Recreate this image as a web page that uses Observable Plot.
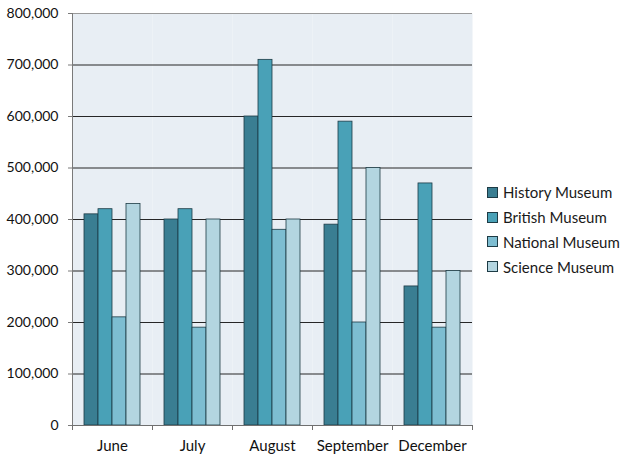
<!DOCTYPE html>
<html>
<head>
<meta charset="utf-8">
<script src="https://cdn.jsdelivr.net/npm/d3@7"></script>
<script src="https://cdn.jsdelivr.net/npm/@observablehq/plot@0.6"></script>
<style>
  body { margin: 0; background: #fff; }
  #wrap { position: relative; width: 624px; height: 460px; }
  #legend { position: absolute; left: 487px; top: 180px; font-family: Lato, sans-serif; font-size: 15px; color: #1a1a1a; }
  .item { display: flex; align-items: center; height: 24.8px; }
  .sw { width: 9px; height: 9px; border: 1px solid #1d3b45; margin-right: 5px; }
</style>
</head>
<body>
<div id="wrap"><div id="legend"></div></div>
<script>
const months = ["June", "July", "August", "September", "December"];
const museums = ["History Museum", "British Museum", "National Museum", "Science Museum"];
const history = [410000, 400000, 600000, 390000, 270000];
const british = [420000, 420000, 710000, 590000, 470000];
const national = [210000, 190000, 380000, 200000, 190000];
const science = [430000, 400000, 400000, 500000, 300000];
const colors = ["#3a7e92", "#49a1b7", "#7dbdd1", "#b3d5e0"];
const yTicks = [0, 100000, 200000, 300000, 400000, 500000, 600000, 700000, 800000];

const series = [history, british, national, science];
const data = months.flatMap((m, i) => museums.map((s, j) => ({month: m, museum: s, visitors: series[j][i]})));

const W = 624, ML = 72, MR = 152;
const half = (W - ML - MR) / months.length / 2;
const fmt = d3.format(",");

const chart = Plot.plot({
  width: W, height: 460,
  marginLeft: ML, marginRight: MR, marginTop: 13, marginBottom: 35,
  style: {fontFamily: "Lato, sans-serif", fontSize: "14px", color: "#111", background: "transparent"},
  fx: {domain: months, padding: 0, label: null, axis: null},
  x: {domain: museums, paddingInner: 0, paddingOuter: 0.76, axis: null},
  y: {domain: [0, 800000], label: null},
  color: {domain: museums, range: colors},
  marks: [
    Plot.frame({fill: "#e8eef4", stroke: null}),
    Plot.gridY(yTicks.slice(1, -1), {stroke: "#262626", strokeOpacity: 1, strokeWidth: 1}),
    Plot.ruleY([800000], {stroke: "#9a9a9a"}),
    Plot.barY(data, {fx: "month", x: "museum", y: "visitors", fill: "museum", stroke: "#1d3b45", strokeWidth: 0.8, inset: 0}),
    Plot.ruleY([0], {stroke: "#6f6f6f"}),
    Plot.frame({anchor: "left", stroke: "#7a7a7a", facetAnchor: "left"}),
    Plot.axisY({ticks: yTicks, tickFormat: fmt, tickSize: 4, tickPadding: 10, stroke: "#7a7a7a", label: null}),
    Plot.axisFx({anchor: "bottom", tickSize: 0, tickPadding: 15, fontSize: 15, label: null}),
    Plot.axisFx({anchor: "bottom", tickSize: 5, tickFormat: () => "", dx: -half, stroke: "#6f6f6f", label: null}),
    Plot.axisFx({anchor: "bottom", ticks: [months[months.length - 1]], tickSize: 5, tickFormat: () => "", dx: half, stroke: "#6f6f6f", label: null})
  ]
});
document.getElementById("wrap").prepend(chart);

const legend = document.getElementById("legend");
museums.forEach((m, i) => {
  const it = document.createElement("div");
  it.className = "item";
  it.innerHTML = `<span class="sw" style="background:${colors[i]}"></span><span>${m}</span>`;
  legend.appendChild(it);
});
</script>
</body>
</html>
